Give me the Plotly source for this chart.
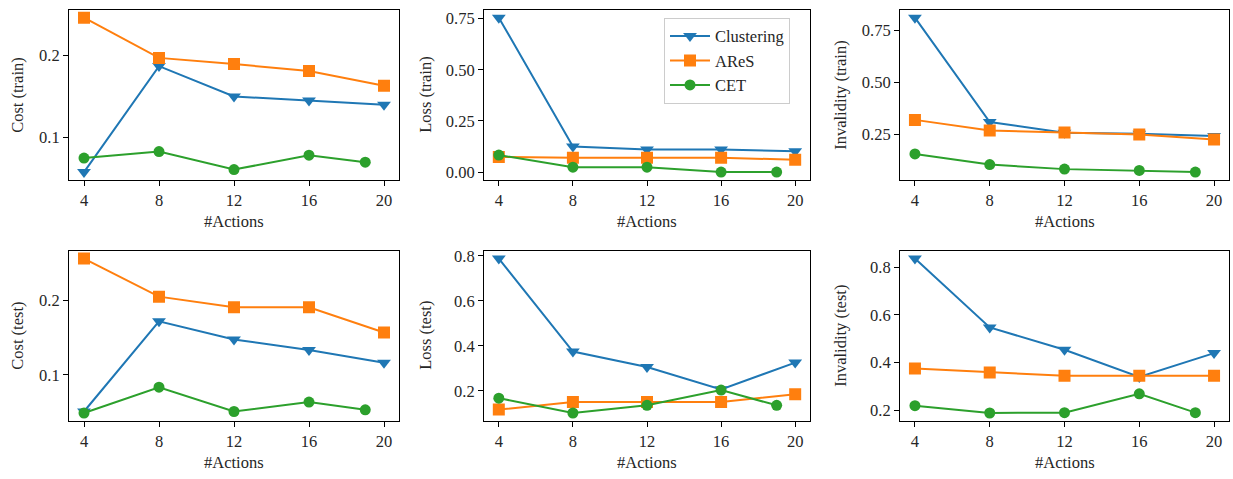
import plotly.graph_objects as go

W, H = 1233, 479

x_main = [4, 8, 12, 16, 20]
x_cet = [4, 8, 12, 16, 19]
xticks = [4, 8, 12, 16, 20]

series_names = ["Clustering", "AReS", "CET"]
colors = ["#1f77b4", "#ff7f0e", "#2ca02c"]
symbols = ["triangle-down", "square", "circle"]

cost_train_clustering = [0.058, 0.187, 0.150, 0.145, 0.140]
cost_train_ares = [0.246, 0.197, 0.1895, 0.181, 0.163]
cost_train_cet = [0.075, 0.083, 0.061, 0.0785, 0.070]

loss_train_clustering = [0.755, 0.125, 0.11, 0.11, 0.102]
loss_train_ares = [0.074, 0.070, 0.070, 0.070, 0.060]
loss_train_cet = [0.083, 0.024, 0.024, 0.0, 0.0]

inv_train_clustering = [0.81, 0.31, 0.258, 0.253, 0.243]
inv_train_ares = [0.32, 0.269, 0.26, 0.25, 0.226]
inv_train_cet = [0.157, 0.106, 0.084, 0.078, 0.070]

cost_test_clustering = [0.051, 0.172, 0.1476, 0.1333, 0.1164]
cost_test_ares = [0.256, 0.205, 0.1907, 0.1907, 0.157]
cost_test_cet = [0.049, 0.0836, 0.051, 0.0636, 0.0533]

loss_test_clustering = [0.788, 0.375, 0.306, 0.207, 0.326]
loss_test_ares = [0.117, 0.1505, 0.1505, 0.1505, 0.1855]
loss_test_cet = [0.168, 0.102, 0.136, 0.204, 0.136]

inv_test_clustering = [0.836, 0.547, 0.453, 0.339, 0.439]
inv_test_ares = [0.374, 0.358, 0.344, 0.344, 0.344]
inv_test_cet = [0.218, 0.1875, 0.189, 0.268, 0.189]

panels = [
    ("Cost (train)", [cost_train_clustering, cost_train_ares, cost_train_cet], [0.1, 0.2], ["0.1", "0.2"]),
    ("Loss (train)", [loss_train_clustering, loss_train_ares, loss_train_cet], [0.0, 0.25, 0.5, 0.75], ["0.00", "0.25", "0.50", "0.75"]),
    ("Invalidity (train)", [inv_train_clustering, inv_train_ares, inv_train_cet], [0.25, 0.5, 0.75], ["0.25", "0.50", "0.75"]),
    ("Cost (test)", [cost_test_clustering, cost_test_ares, cost_test_cet], [0.1, 0.2], ["0.1", "0.2"]),
    ("Loss (test)", [loss_test_clustering, loss_test_ares, loss_test_cet], [0.2, 0.4, 0.6, 0.8], ["0.2", "0.4", "0.6", "0.8"]),
    ("Invalidity (test)", [inv_test_clustering, inv_test_ares, inv_test_cet], [0.2, 0.4, 0.6, 0.8], ["0.2", "0.4", "0.6", "0.8"]),
]

FONT = "Liberation Serif"
FS = 16.5
TXT = "#262626"

# pixel geometry of the axes boxes
col_px = [(69, 399), (484, 810), (900, 1229)]
row_px = [(6, 178), (250, 422)]
ytitle_px = [18, 426, 841]

fig = go.Figure()
layout = dict(
    width=W, height=H,
    margin=dict(l=0, r=0, t=0, b=0),
    paper_bgcolor="white", plot_bgcolor="white",
    font=dict(family=FONT, size=FS, color=TXT),
    showlegend=True,
    legend=dict(
        x=664 / W, y=1 - 14 / H, xanchor="left", yanchor="top",
        bgcolor="rgba(255,255,255,0.8)", bordercolor="#cccccc", borderwidth=1,
        font=dict(family=FONT, size=FS, color=TXT), tracegroupgap=2, itemwidth=40,
    ),
)
annotations = []

for i, (ylabel, data, yt, ytt) in enumerate(panels):
    r, c = divmod(i, 3)
    ax = i + 1
    xname = "xaxis" if ax == 1 else f"xaxis{ax}"
    yname = "yaxis" if ax == 1 else f"yaxis{ax}"
    xref = "x" if ax == 1 else f"x{ax}"
    yref = "y" if ax == 1 else f"y{ax}"
    x0, x1 = col_px[c]
    y0, y1 = row_px[r]
    allv = [v for s in data for v in s]
    lo, hi = min(allv), max(allv)
    pad = (hi - lo) * 0.05
    for k in range(3):
        xs = x_cet if k == 2 else x_main
        fig.add_trace(go.Scatter(
            x=xs, y=data[k], mode="lines+markers", name=series_names[k],
            line=dict(color=colors[k], width=2),
            marker=dict(symbol=symbols[k], size=12 if k != 2 else 11, color=colors[k]),
            xaxis=xref, yaxis=yref, showlegend=(i == 1),
        ))
    common = dict(showline=True, linecolor="black", linewidth=1, mirror=True,
                  ticks="outside", ticklen=5, tickwidth=1, tickcolor="black",
                  showgrid=False, zeroline=False,
                  tickfont=dict(family=FONT, size=FS, color=TXT))
    layout[xname] = dict(domain=[x0 / W, x1 / W], anchor=yref, range=[3.2, 20.8],
                         tickvals=xticks, ticktext=[str(t) for t in xticks], **common)
    layout[yname] = dict(domain=[1 - y1 / H, 1 - y0 / H], anchor=xref, range=[lo - pad, hi + pad],
                         tickvals=yt, ticktext=ytt, **common)
    annotations.append(dict(text="#Actions", xref="paper", yref="paper",
                            x=(x0 + x1) / 2 / W, y=1 - (y1 + 42) / H,
                            xanchor="center", yanchor="middle", showarrow=False,
                            font=dict(family=FONT, size=FS, color=TXT)))
    annotations.append(dict(text=ylabel, xref="paper", yref="paper",
                            x=ytitle_px[c] / W, y=1 - (y0 + y1) / 2 / H,
                            xanchor="center", yanchor="middle", showarrow=False, textangle=-90,
                            font=dict(family=FONT, size=FS, color=TXT)))

layout["annotations"] = annotations
fig.update_layout(**layout)
fig.write_html("out.html")
